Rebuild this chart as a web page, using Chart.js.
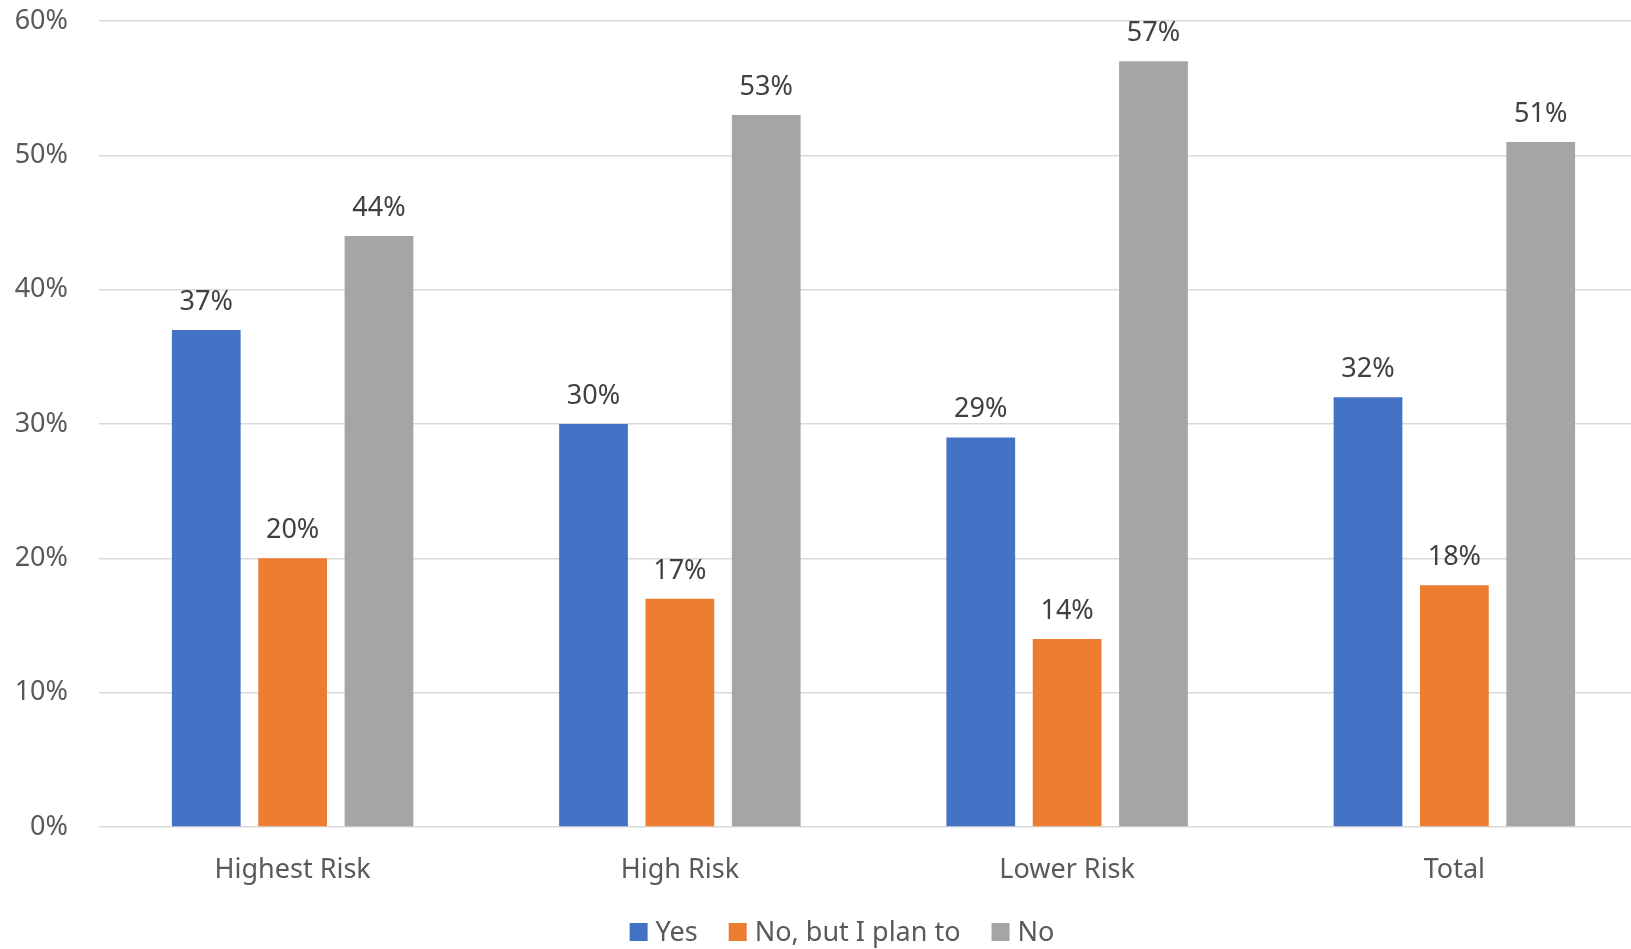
<!DOCTYPE html>
<html>
<head>
<meta charset="utf-8">
<script src="https://cdn.jsdelivr.net/npm/chart.js@4"></script>
<style>
  html, body { margin: 0; padding: 0; background: #ffffff; overflow: hidden; }
  #wrap { width: 1631px; height: 949px; overflow: hidden; }
  #chart { display: block; }
</style>
</head>
<body>
<div id="wrap"><canvas id="chart" width="1648" height="949"></canvas></div>
<script>
// Survey responses by risk group (percent)
const categories = ['Highest Risk', 'High Risk', 'Lower Risk', 'Total'];
const seriesNames = ['Yes', 'No, but I plan to', 'No'];
const yesValues = [37, 30, 29, 32];
const planValues = [20, 17, 14, 18];
const noValues = [44, 53, 57, 51];
const yTicks = [0, 10, 20, 30, 40, 50, 60];

const FONT = '"Noto Sans", "Open Sans", sans-serif';
const TEXT = '#595959';

// Draws the percentage above each bar
const valueLabels = {
  id: 'valueLabels',
  afterDatasetsDraw(chart) {
    const ctx = chart.ctx;
    ctx.save();
    ctx.font = '27px ' + FONT;
    ctx.fillStyle = '#404040';
    ctx.textAlign = 'center';
    ctx.textBaseline = 'alphabetic';
    chart.data.datasets.forEach((ds, i) => {
      const meta = chart.getDatasetMeta(i);
      meta.data.forEach((bar, j) => {
        ctx.fillText(ds.data[j] + '%', bar.x, bar.y - 20);
      });
    });
    ctx.restore();
  }
};

// Legend row under the axis: square swatch, then series name
const bottomLegend = {
  id: 'bottomLegend',
  afterDraw(chart) {
    const ctx = chart.ctx;
    const box = 18, gapText = 8, gapItem = 31;
    const cy = 932, centerX = 842;
    ctx.save();
    ctx.font = '27px ' + FONT;
    ctx.textBaseline = 'middle';
    ctx.textAlign = 'left';
    const items = chart.data.datasets.map(ds => ({
      label: ds.label, color: ds.backgroundColor, w: ctx.measureText(ds.label).width
    }));
    let total = 0;
    items.forEach((it, i) => { total += box + gapText + it.w + (i < items.length - 1 ? gapItem : 0); });
    let x = centerX - total / 2;
    items.forEach(it => {
      ctx.fillStyle = it.color;
      ctx.fillRect(x, cy - box / 2, box, box);
      x += box + gapText;
      ctx.fillStyle = TEXT;
      ctx.fillText(it.label, x, cy + 1);
      x += it.w + gapItem;
    });
    ctx.restore();
  }
};

new Chart(document.getElementById('chart'), {
  type: 'bar',
  data: {
    labels: categories,
    datasets: [
      { label: seriesNames[0], data: yesValues, backgroundColor: '#4472C4' },
      { label: seriesNames[1], data: planValues, backgroundColor: '#ED7D31' },
      { label: seriesNames[2], data: noValues, backgroundColor: '#A5A5A5' }
    ]
  },
  options: {
    responsive: false,
    animation: false,
    devicePixelRatio: 1,
    layout: { padding: { left: 0, right: 0, top: 21, bottom: 52 } },
    datasets: {
      bar: { categoryPercentage: 0.669, barPercentage: 0.796 }
    },
    scales: {
      x: {
        grid: { display: false, drawTicks: false },
        border: { display: false },
        afterFit(scale) { scale.height = 70; },
        ticks: {
          color: TEXT,
          font: { family: FONT, size: 27 },
          padding: 27
        }
      },
      y: {
        min: 0,
        max: 60,
        afterBuildTicks(scale) {
          scale.ticks = yTicks.map(v => ({ value: v }));
        },
        afterFit(scale) {
          scale.width = 99;
          scale.paddingTop = 0;
          scale.paddingBottom = 0;
        },
        grid: { color: '#D9D9D9', lineWidth: 1.5, drawTicks: false },
        border: { display: false },
        ticks: {
          color: TEXT,
          font: { family: FONT, size: 27 },
          padding: 31,
          callback: v => v + '%'
        }
      }
    },
    plugins: {
      legend: { display: false },
      tooltip: { enabled: false }
    }
  },
  plugins: [valueLabels, bottomLegend]
});
</script>
</body>
</html>
